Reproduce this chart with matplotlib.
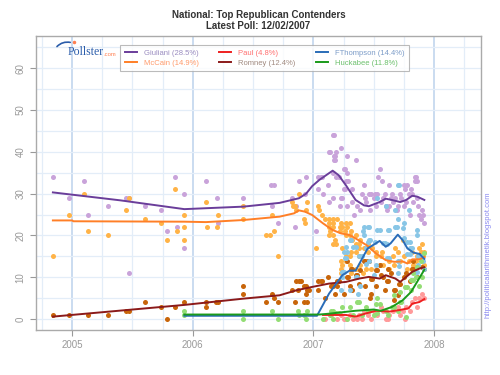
import numpy as np
import matplotlib
matplotlib.use("Agg")
from matplotlib import pyplot as plt
from matplotlib.ticker import MultipleLocator

plt.rcParams['font.family'] = ['Liberation Sans', 'DejaVu Sans']

# poll dates as decimal years, values in percent
giuliani_x = [2004.84, 2004.97, 2005.10, 2005.13, 2005.30, 2005.45, 2005.47, 2005.47, 2005.60, 2005.74,
              2005.79, 2005.85, 2005.87, 2005.93, 2005.93, 2006.11, 2006.20, 2006.21, 2006.42, 2006.65,
              2006.67, 2006.66, 2006.71, 2006.82, 2006.85, 2006.86, 2006.88, 2006.93, 2006.94, 2007.02,
              2007.04, 2007.04, 2007.06, 2007.07, 2007.08, 2007.12, 2007.13, 2007.14, 2007.13, 2007.16,
              2007.17, 2007.16, 2007.16, 2007.17, 2007.18, 2007.17, 2007.18, 2007.19, 2007.19, 2007.21,
              2007.22, 2007.23, 2007.23, 2007.24, 2007.25, 2007.26, 2007.25, 2007.26, 2007.27, 2007.29,
              2007.28, 2007.28, 2007.28, 2007.32, 2007.32, 2007.34, 2007.35, 2007.36, 2007.39, 2007.42,
              2007.40, 2007.43, 2007.44, 2007.46, 2007.47, 2007.48, 2007.50, 2007.51, 2007.52, 2007.53,
              2007.54, 2007.55, 2007.56, 2007.57, 2007.58, 2007.59, 2007.60, 2007.61, 2007.63, 2007.63,
              2007.64, 2007.65, 2007.66, 2007.68, 2007.69, 2007.70, 2007.72, 2007.73, 2007.75, 2007.75,
              2007.76, 2007.77, 2007.78, 2007.79, 2007.80, 2007.81, 2007.82, 2007.83, 2007.84, 2007.85,
              2007.84, 2007.86, 2007.86, 2007.87, 2007.88, 2007.89, 2007.90, 2007.91, 2007.92]
giuliani_y = [34, 29, 33, 25, 27, 29, 29, 11, 27, 26,
              21, 34, 22, 30, 17, 33, 29, 23, 29, 32,
              32, 27, 23, 29, 22, 27, 33, 30, 34, 21,
              34, 31, 34, 34, 30, 32, 40, 40, 28, 44,
              44, 35, 29, 39, 39, 38, 38, 40, 34, 34,
              27, 41, 29, 29, 36, 36, 31, 31, 33, 33,
              39, 35, 27, 31, 28, 25, 38, 27, 26, 32,
              30, 29, 28, 30, 26, 30, 29, 30, 27, 30,
              34, 36, 28, 33, 29, 30, 27, 26, 32, 27,
              29, 30, 28, 29, 26, 27, 30, 29, 32, 27,
              31, 28, 32, 30, 25, 31, 30, 28, 34, 34,
              33, 33, 29, 27, 25, 24, 26, 25, 23]

mccain_x = [2004.84, 2004.97, 2005.10, 2005.13, 2005.30, 2005.45, 2005.47, 2005.60, 2005.74, 2005.79,
            2005.85, 2005.87, 2005.93, 2005.93, 2005.93, 2006.11, 2006.12, 2006.20, 2006.21, 2006.42,
            2006.42, 2006.61, 2006.64, 2006.66, 2006.67, 2006.71, 2006.82, 2006.83, 2006.85, 2006.86,
            2006.88, 2006.92, 2006.93, 2006.94, 2006.95, 2007.02, 2007.04, 2007.05, 2007.07,
            2007.10, 2007.13, 2007.16, 2007.20,
            2007.13, 2007.16, 2007.23, 2007.27, 2007.30,
            2007.13, 2007.16, 2007.22, 2007.24, 2007.28,
            2007.14, 2007.22, 2007.26, 2007.31,
            2007.13, 2007.16, 2007.27, 2007.30, 2007.35,
            2007.18, 2007.32, 2007.39,
            2007.16, 2007.19, 2007.35, 2007.38, 2007.45,
            2007.24, 2007.38, 2007.42, 2007.49,
            2007.31, 2007.35, 2007.45, 2007.52, 2007.57, 2007.70, 2007.82, 2007.89,
            2007.27, 2007.30, 2007.38, 2007.52, 2007.56, 2007.66, 2007.75, 2007.86,
            2007.23, 2007.27, 2007.46, 2007.63, 2007.79, 2007.85,
            2007.24, 2007.30, 2007.39, 2007.55, 2007.67, 2007.83,
            2007.23, 2007.35, 2007.44, 2007.63, 2007.82,
            2007.23, 2007.31, 2007.41,
            2007.88, 2007.90, 2007.92, 2007.60, 2007.74, 2007.78, 2007.92, 2007.91, 2007.72, 2007.58,
            2007.48, 2007.68]
mccain_y = [15, 25, 30, 21, 20, 26, 29, 24, 23, 19,
            31, 21, 25, 22, 19, 28, 22, 22, 25, 24,
            27, 20, 20, 25, 21, 15, 28, 27, 27, 26,
            30, 24, 23, 26, 28, 17, 27, 26, 25,
            24, 24, 24, 24,
            23, 23, 23, 23, 23,
            22, 22, 22, 22, 22,
            21, 21, 21, 21,
            20, 20, 20, 20, 20,
            19, 19, 19,
            18, 18, 18, 18, 18,
            17, 17, 17, 17,
            16, 16, 16, 16, 16, 16, 16, 16,
            15, 15, 15, 15, 15, 15, 15, 15,
            14, 14, 14, 14, 14, 14,
            13, 13, 13, 13, 13, 13,
            12, 12, 12, 12, 12,
            11, 11, 11,
            17, 18, 16, 18, 19, 12, 13, 15, 14, 13,
            12, 17]

paul_x = [2007.10, 2007.15, 2007.20, 2007.23, 2007.27, 2007.30, 2007.33, 2007.36, 2007.38, 2007.42,
          2007.45, 2007.48, 2007.50, 2007.53, 2007.56, 2007.58, 2007.60, 2007.63, 2007.66, 2007.70,
          2007.72, 2007.74, 2007.77, 2007.80, 2007.82, 2007.84, 2007.86, 2007.88, 2007.90, 2007.92,
          2007.25, 2007.40, 2007.62, 2007.76]
paul_y = [0, 1, 0, 1, 0, 1, 0, 0, 1, 2,
          1, 0, 2, 1, 3, 2, 0, 1, 2, 3,
          1, 2, 3, 2, 4, 5, 3, 5, 6, 5,
          0, 0, 0, 0]

romney_x = [2004.84, 2004.97, 2005.13, 2005.30, 2005.45, 2005.47, 2005.60, 2005.74, 2005.79, 2005.85,
            2005.93, 2006.11, 2006.11, 2006.19, 2006.21, 2006.42, 2006.42, 2006.61, 2006.66, 2006.67,
            2006.71, 2006.82, 2006.85, 2006.86, 2006.88, 2006.87, 2006.92, 2006.94, 2006.92, 2006.95,
            2006.94, 2007.04, 2006.90, 2006.95, 2006.96, 2007.04, 2007.06, 2007.07, 2007.12, 2007.15,
            2007.16, 2007.20, 2007.21, 2007.20, 2007.28, 2007.29, 2007.28, 2007.31, 2007.32, 2007.35,
            2007.36, 2007.38, 2007.32, 2007.42, 2007.43, 2007.39, 2007.45, 2007.46, 2007.52, 2007.53,
            2007.56, 2007.48, 2007.49, 2007.52, 2007.61, 2007.62, 2007.64, 2007.67, 2007.68, 2007.71,
            2007.72, 2007.59, 2007.75, 2007.82, 2007.83, 2007.83, 2007.88, 2007.90, 2007.70, 2007.67,
            2007.48, 2007.47, 2007.10, 2007.18, 2007.25, 2007.30, 2007.43, 2007.55, 2007.62, 2007.77,
            2007.86, 2007.92, 2007.80, 2007.58]
romney_y = [1, 1, 1, 1, 2, 2, 4, 3, 0, 3,
            4, 3, 4, 4, 4, 8, 6, 4, 6, 5,
            4, 7, 4, 9, 9, 7, 8, 8, 4, 4,
            6, 9, 9, 7, 7, 7, 9, 9, 10, 8,
            8, 9, 9, 8, 10, 10, 14, 12, 12, 10.5,
            10.5, 8.5, 7, 14, 14, 11.7, 14, 14, 11.7, 11.7,
            10.5, 9.7, 9.7, 8, 9, 9, 11, 7, 7, 8.5,
            8.5, 7, 10, 12, 12, 14, 15.3, 12.5, 5.7, 4.5,
            6, 5, 5, 6, 6, 8, 8, 13, 12, 11,
            10, 12, 9, 10]

thompson_x = [2007.23, 2007.24, 2007.25, 2007.24, 2007.26, 2007.27, 2007.25, 2007.27, 2007.28, 2007.30,
              2007.31, 2007.33, 2007.35, 2007.35, 2007.36, 2007.30, 2007.39, 2007.37, 2007.42, 2007.45,
              2007.42, 2007.41, 2007.38, 2007.40, 2007.44, 2007.44, 2007.45, 2007.46, 2007.53, 2007.55,
              2007.62, 2007.63, 2007.68, 2007.69, 2007.74, 2007.75, 2007.86, 2007.86, 2007.46, 2007.47,
              2007.51, 2007.58, 2007.59, 2007.61, 2007.75, 2007.78, 2007.80, 2007.80, 2007.82, 2007.78,
              2007.80, 2007.87, 2007.89, 2007.46, 2007.61, 2007.63, 2007.70, 2007.71, 2007.84, 2007.86,
              2007.87, 2007.52, 2007.50, 2007.70, 2007.53, 2007.60, 2007.68, 2007.79, 2007.70, 2007.70,
              2007.71, 2007.92, 2007.91]
thompson_y = [7, 11.3, 11.3, 10, 14.5, 14.5, 16, 17.3, 16, 19,
              19, 17.3, 17.3, 10, 10, 7, 8, 6, 20, 18.5,
              22, 21, 15, 15, 17, 13.3, 22, 22, 21.3, 21.3,
              21.3, 21.3, 22, 22, 21.7, 23, 21.3, 20, 19, 19,
              18.5, 18.1, 18.1, 18, 19.3, 18.5, 18.5, 17, 17, 15.5,
              15.5, 15, 15, 14, 14.5, 14.5, 14, 12.7, 11.3, 11.3,
              13, 13, 10.5, 11, 29, 27, 26, 26, 24, 32,
              32, 12, 14]

huckabee_x = [2005.93, 2005.93, 2006.42, 2006.42, 2006.66, 2006.71, 2006.87, 2006.88, 2006.92, 2006.95,
              2006.94, 2007.08, 2007.15, 2007.16, 2007.14, 2007.19, 2007.21, 2007.24, 2007.30, 2007.36,
              2007.38, 2007.44, 2007.16, 2007.28, 2007.33, 2007.45, 2007.46, 2007.53, 2007.52, 2007.55,
              2007.60, 2007.65, 2007.67, 2007.67, 2007.72, 2007.73, 2007.72, 2007.76, 2007.78, 2007.81,
              2007.83, 2007.83, 2007.86, 2007.89, 2007.92, 2007.81, 2007.85, 2007.53, 2007.77, 2007.40,
              2007.50, 2007.62, 2007.70, 2007.90, 2007.88]
huckabee_y = [2, 1, 2, 0, 2, 0, 2, 1, 1, 2,
              0, 0, 2, 2, 1, 1.5, 1.5, 3, 3, 4,
              4, 3, 0, 0, 1, 2, 2, 5, 3.5, 3.5,
              2, 3, 3, 5.7, 4, 4, 6.5, 7.7, 7.7, 9.3,
              9.3, 11, 12.5, 14, 15.7, 7, 10, 1.5, 0.5, 1,
              1, 1, 2, 10, 8]

# trend lines
giuliani_tx = [2004.84, 2005.40, 2005.93, 2006.42, 2006.72, 2006.88, 2006.94, 2006.99, 2007.05, 2007.16,
               2007.21, 2007.27, 2007.35, 2007.42, 2007.46, 2007.55, 2007.60, 2007.65, 2007.72, 2007.77,
               2007.82, 2007.86, 2007.92]
giuliani_ty = [30.3, 28.4, 26.3, 26.9, 27.8, 28.9, 30.0, 31.8, 33.3, 35.5,
               34.4, 32.0, 28.5, 27.2, 27.0, 28.0, 28.8, 28.5, 28.0, 28.5,
               29.5, 29.3, 28.5]
mccain_tx = [2004.84, 2005.00, 2005.01, 2005.93, 2006.11, 2006.42, 2006.72, 2006.84, 2006.88, 2006.93,
             2006.99, 2007.08, 2007.16, 2007.23, 2007.30, 2007.35, 2007.44, 2007.52, 2007.60, 2007.67,
             2007.74, 2007.78, 2007.82, 2007.88, 2007.92]
mccain_ty = [23.6, 23.6, 23.4, 23.3, 23.2, 23.7, 24.5, 25.3, 26.0, 25.7,
             24.9, 22.9, 21.3, 20.5, 20.1, 19.3, 17.7, 15.7, 14.1, 13.7,
             13.8, 13.3, 14.3, 14.3, 14.9]
paul_tx = [2007.08, 2007.27, 2007.35, 2007.44, 2007.52, 2007.63, 2007.72, 2007.79, 2007.82, 2007.88, 2007.92]
paul_ty = [1.0, 1.0, 0.6, 1.4, 2.0, 1.8, 2.2, 2.6, 3.7, 4.1, 4.8]
romney_tx = [2004.84, 2005.93, 2006.42, 2006.72, 2006.86, 2006.99, 2007.13, 2007.27, 2007.38, 2007.46,
             2007.55, 2007.60, 2007.68, 2007.72, 2007.77, 2007.82, 2007.88, 2007.92]
romney_ty = [0.6, 3.4, 4.9, 5.7, 6.9, 7.7, 8.5, 8.9, 9.7, 10.1,
             9.7, 10.5, 9.7, 8.9, 10.1, 11.3, 12.1, 12.4]
thompson_tx = [2005.93, 2007.03, 2007.13, 2007.24, 2007.30, 2007.35, 2007.39, 2007.45, 2007.55, 2007.60,
               2007.64, 2007.70, 2007.74, 2007.78, 2007.83, 2007.88, 2007.92]
thompson_ty = [0.8, 0.8, 6.1, 10.5, 11.6, 11.6, 13.7, 16.9, 18.7, 17.3,
               18.1, 20.2, 18.9, 16.9, 15.9, 15.6, 14.4]
huckabee_tx = [2005.93, 2007.05, 2007.13, 2007.35, 2007.50, 2007.56, 2007.65, 2007.74, 2007.81, 2007.86, 2007.92]
huckabee_ty = [1.1, 1.1, 1.3, 2.0, 2.3, 2.0, 2.9, 4.5, 6.5, 8.9, 11.8]

labels = ["Giuliani (28.5%)", "McCain (14.9%)", "Paul (4.8%)",
          "Romney (12.4%)", "FThompson (14.4%)", "Huckabee (11.8%)"]
line_colors = ["#6a3d9a", "#ff7f27", "#ee2020", "#8b1a1a", "#2a6cb8", "#1a9a1a"]
dot_colors = ["#c9a3da", "#ffb347", "#ff9a9a", "#c8650a", "#88c6e6", "#93dd74"]
text_colors = ["#9a8cc0", "#ff9a6a", "#ff7070", "#a08a80", "#7c9cc8", "#6cc06c"]

points = [(giuliani_x, giuliani_y), (mccain_x, mccain_y), (paul_x, paul_y),
          (romney_x, romney_y), (thompson_x, thompson_y), (huckabee_x, huckabee_y)]
trends = [(giuliani_tx, giuliani_ty), (mccain_tx, mccain_ty), (paul_tx, paul_ty),
          (romney_tx, romney_ty), (thompson_tx, thompson_ty), (huckabee_tx, huckabee_ty)]

fig = plt.figure(figsize=(5, 3.75), dpi=100)
ax = fig.add_axes([0.072, 0.12, 0.89, 0.784])

# grid
ax.set_xlim(2004.70, 2008.39)
ax.set_ylim(-2.6, 67.7)
ax.xaxis.set_major_locator(MultipleLocator(1))
ax.xaxis.set_minor_locator(MultipleLocator(0.25))
ax.yaxis.set_major_locator(MultipleLocator(10))
ax.yaxis.set_minor_locator(MultipleLocator(5))
ax.grid(which="major", axis="x", color="#c6d9ef", lw=1.3)
ax.grid(which="minor", axis="x", color="#e3edf8", lw=0.9)
ax.grid(which="both", axis="y", color="#e3edf8", lw=0.9)
ax.set_axisbelow(True)

for (px, py), c in zip(points, dot_colors):
    ax.scatter(px, py, s=13, color=c, linewidths=0, zorder=2)

handles = []
for (tx, ty), c, lab in zip(trends, line_colors, labels):
    h, = ax.plot(tx, ty, color=c, lw=1.4, zorder=3, label=lab)
    handles.append(h)

ax.set_xticks([2005, 2006, 2007, 2008])
ax.set_xticklabels(["2005", "2006", "2007", "2008"])
ax.tick_params(which="major", colors="#999999", labelsize=7, length=4, width=0.8)
ax.tick_params(which="minor", length=0)
ax.tick_params(axis="y", labelrotation=90)
for lab in ax.get_yticklabels():
    lab.set_va("center")
for s in ax.spines.values():
    s.set_color("#aaaaaa")
    s.set_linewidth(1)

leg = ax.legend(handles=handles, ncol=3, loc="upper left", bbox_to_anchor=(0.18, 0.982),
                fontsize=5.5, frameon=True, fancybox=False, edgecolor="#aaaaaa",
                handlelength=1.6, columnspacing=2.7, borderpad=0.6, labelspacing=0.3,
                handletextpad=0.9)
leg.get_frame().set_linewidth(0.8)
for t, c in zip(leg.get_texts(), text_colors):
    t.set_color(c)

# Pollster logo
ax.text(0.072, 0.944, "Pollster", transform=ax.transAxes, fontsize=8.5, color="#2a5caa",
        family="Liberation Serif", ha="left", va="center")
ax.text(0.152, 0.938, ".com", transform=ax.transAxes, fontsize=4.2, color="#ff7f50",
        ha="left", va="center")
ax.annotate("", xy=(0.083, 0.976), xytext=(0.043, 0.957), xycoords="axes fraction",
            arrowprops=dict(arrowstyle="-", color="#2a5caa", lw=1.2,
                            connectionstyle="arc3,rad=-0.35"))
ax.plot([0.085], [0.98], "o", ms=1.5, color="#ff7f50", transform=ax.transAxes, clip_on=False)

ax.set_title("National: Top Republican Contenders\nLatest Poll: 12/02/2007",
             fontsize=7, fontweight="bold", color="#333333", pad=5, linespacing=1.1)

fig.text(0.976, 0.152, "http://politicalarithmetik.blogspot.com", rotation=90,
         fontsize=5.5, color="#8a8af0", ha="center", va="bottom")

fig.savefig("out.png", dpi=100)
